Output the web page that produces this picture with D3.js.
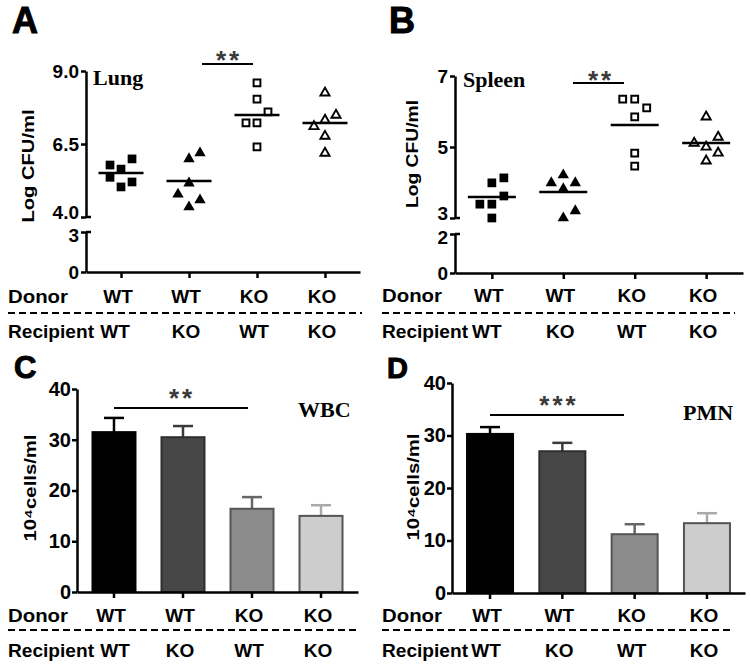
<!DOCTYPE html>
<html>
<head>
<meta charset="utf-8">
<script src="https://cdn.jsdelivr.net/npm/d3@7"></script>
<style>
  body { margin: 0; background: #fff; }
  svg { display: block; }
</style>
</head>
<body>
<svg id="chart" width="750" height="664"></svg>
<script>
// ---------------- DATA ----------------
const groups = ["WT>WT", "WT>KO", "KO>WT", "KO>KO"];
const donorLabels = ["WT", "WT", "KO", "KO"];
const recipientLabels = ["WT", "KO", "WT", "KO"];

// Panel A: Lung, Log CFU/ml (individual mice)
const lungWTtoWT = [5.64, 5.03, 5.99, 5.78, 5.20, 5.36];
const lungWTtoKO = [5.99, 5.16, 4.34, 6.19, 4.58, 4.78];
const lungKOtoWT = [8.59, 8.04, 7.22, 6.40, 7.60, 7.22];
const lungKOtoKO = [8.25, 7.32, 6.77, 6.19, 7.49, 7.10];
const lungMedians = [5.51, 5.23, 7.49, 7.22];
const lungTicksUpper = [4.0, 6.5, 9.0];
const lungTicksLower = [0, 3];

// Panel B: Spleen, Log CFU/ml
const spleenWTtoWT = [3.99, 3.39, 3.00, 4.13, 3.62, 3.39];
const spleenWTtoKO = [4.21, 3.82, 3.00, 3.99, 3.20, 3.99];
const spleenKOtoWT = [6.35, 5.85, 4.83, 4.46, 6.10, 6.35];
const spleenKOtoKO = [5.85, 5.00, 4.61, 5.28, 4.83, 5.11];
const spleenMedians = [3.59, 3.73, 5.62, 5.11];
const spleenTicksUpper = [3, 5, 7];
const spleenTicksLower = [0, 2];

// Panel C: WBC, 10^4 cells/ml (mean, SEM)
const wbcMeans = [31.5, 30.5, 16.4, 15.0];
const wbcSEM = [2.8, 2.2, 2.3, 2.1];
// Panel D: PMN
const pmnMeans = [30.3, 27.0, 11.2, 13.3];
const pmnSEM = [1.3, 1.6, 1.9, 1.9];
const cellTicks = [0, 10, 20, 30, 40];

// ---------------- DRAWING ----------------
const SANS = "'Liberation Sans', Arial, Helvetica, sans-serif";
const SERIF = "'Liberation Serif', 'Times New Roman', serif";
const svg = d3.select("#chart");

function styleAxis(sel, fs) {
  sel.attr("font-family", SANS);
  sel.select(".domain").attr("stroke", "#000").attr("stroke-width", 2.5);
  sel.selectAll(".tick line").attr("stroke", "#000").attr("stroke-width", 2.5);
  sel.selectAll(".tick text").attr("fill", "#000").attr("font-size", fs)
    .attr("font-weight", "bold").attr("font-family", SANS);
}

function panelLetter(txt, x, y, fs) {
  svg.append("text").attr("x", x).attr("y", y).attr("font-family", SANS)
    .attr("font-weight", "bold").attr("font-size", fs).attr("fill", "#000")
    .attr("stroke", "#000").attr("stroke-width", 1).text(txt);
}

function yLabel(txt, cx, cy, len) {
  svg.append("text").attr("transform", `translate(${cx},${cy}) rotate(-90)`)
    .attr("text-anchor", "middle").attr("font-family", SANS).attr("font-weight", "bold")
    .attr("font-size", 17).attr("fill", "#000")
    .attr("textLength", len).attr("lengthAdjust", "spacingAndGlyphs").text(txt);
}

function titleLabel(txt, x, y) {
  svg.append("text").attr("x", x).attr("y", y).attr("font-family", SERIF)
    .attr("font-weight", "bold").attr("font-size", 22).attr("fill", "#000").text(txt);
}

function sigBar(x1, x2, y, stars, starX, starY) {
  svg.append("line").attr("x1", x1).attr("x2", x2).attr("y1", y).attr("y2", y)
    .attr("stroke", "#000").attr("stroke-width", 2);
  svg.append("text").attr("x", starX + 2).attr("y", starY + 14).attr("text-anchor", "middle")
    .attr("font-family", SANS).attr("font-weight", "bold").attr("font-size", 26)
    .attr("letter-spacing", 3).attr("fill", "#3a3a3a").text(stars);
}

function rowLabels(c, center) {
  const g = svg.append("g").attr("font-family", SANS).attr("font-weight", "bold")
    .attr("font-size", 19).attr("fill", "#000");
  g.append("text").attr("x", c.left).attr("y", c.donorY)
    .attr("textLength", 60).attr("lengthAdjust", "spacingAndGlyphs").text("Donor");
  g.selectAll("text.dl").data(groups).join("text").attr("class", "dl")
    .attr("x", d => center(d) - 3).attr("y", c.donorY).attr("text-anchor", "middle")
    .text((d, i) => donorLabels[i]);
  g.append("line").attr("x1", c.left).attr("x2", c.dashEnd).attr("y1", c.dashY).attr("y2", c.dashY)
    .attr("stroke", "#000").attr("stroke-width", 2).attr("stroke-dasharray", "7,4");
  g.append("text").attr("x", c.left).attr("y", c.recipY)
    .attr("textLength", 86).attr("lengthAdjust", "spacingAndGlyphs").text("Recipient");
  g.selectAll("text.rl").data(groups).join("text").attr("class", "rl")
    .attr("x", (d, i) => center(d) + (i === 0 ? c.firstShift : -3)).attr("y", c.recipY)
    .attr("text-anchor", "middle")
    .text((d, i) => recipientLabels[i]);
}

const markers = [
  { type: d3.symbolSquare, size: 76, fill: "#000", stroke: "none", sw: 0 },
  { type: d3.symbolTriangle, size: 56, fill: "#000", stroke: "none", sw: 0 },
  { type: d3.symbolSquare, size: 46, fill: "#fff", stroke: "#000", sw: 2 },
  { type: d3.symbolTriangle, size: 36, fill: "#fff", stroke: "#000", sw: 1.9 }
];

function scatterPanel(c) {
  const x = d3.scalePoint().domain(groups).range([c.ax, c.axEnd]).padding(c.pad);
  const yU = d3.scaleLinear().domain([c.upper[0], c.upper[c.upper.length - 1]]).range([c.yU0, c.yU1]);
  const yL = d3.scaleLinear().domain([c.lower[0], c.lower[1]]).range([c.y0, c.yL1]);

  const gU = svg.append("g").attr("transform", `translate(${c.ax},0)`)
    .call(d3.axisLeft(yU).tickValues(c.upper).tickFormat(d3.format(c.fmt))
      .tickSize(5).tickSizeOuter(0).tickPadding(2));
  styleAxis(gU, 19);
  // lowest upper label nudged up a little (axis break)
  gU.selectAll(".tick text").filter(d => d === c.upper[0]).attr("dy", "0.1em");
  const gL = svg.append("g").attr("transform", `translate(${c.ax},0)`)
    .call(d3.axisLeft(yL).tickValues(c.lower).tickFormat(d3.format("d"))
      .tickSize(5).tickSizeOuter(0).tickPadding(2));
  styleAxis(gL, 19);
  gL.selectAll(".tick text").filter(d => d === c.lower[1]).attr("dy", "0.52em");
  // break caps
  [yU(c.upper[0]), yL(c.lower[1])].forEach(yy => {
    svg.append("line").attr("x1", c.ax).attr("x2", c.ax + 5).attr("y1", yy).attr("y2", yy)
      .attr("stroke", "#000").attr("stroke-width", 2.5);
  });
  const gX = svg.append("g").attr("transform", `translate(0,${c.y0})`)
    .call(d3.axisBottom(x).tickSize(6).tickSizeOuter(0).tickFormat(""));
  styleAxis(gX, 19);

  c.series.forEach((vals, gi) => {
    const m = markers[gi];
    const placed = [];
    const sym = d3.symbol().type(m.type).size(m.size);
    vals.forEach(v => {
      const py = yU(v);
      let slot = 0;
      for (const s of [0, 1, -1]) {
        if (!placed.some(p => p.s === s && Math.abs(p.y - py) < 12)) { slot = s; break; }
      }
      placed.push({ s: slot, y: py });
      svg.append("path").attr("d", sym())
        .attr("transform", `translate(${x(groups[gi]) + slot * c.step},${py})`)
        .attr("fill", m.fill).attr("stroke", m.stroke).attr("stroke-width", m.sw);
    });
    const my = yU(c.medians[gi]);
    svg.append("line").attr("x1", x(groups[gi]) - c.medianW / 2).attr("x2", x(groups[gi]) + c.medianW / 2)
      .attr("y1", my).attr("y2", my).attr("stroke", "#000").attr("stroke-width", 2.5);
  });

  rowLabels(c, d => x(d));
}

const barFills = ["#000000", "#474747", "#8c8c8c", "#cdcdcd"];
const barStrokes = ["#000000", "#2e2e2e", "#555555", "#555555"];
const errColors = ["#000000", "#3a3a3a", "#666666", "#aaaaaa"];

function barPanel(c) {
  const x = d3.scaleBand().domain(groups).range([c.ax, c.axEnd])
    .paddingInner(c.pi).paddingOuter(c.po);
  const y = d3.scaleLinear().domain([0, 40]).range([c.y0, c.y40]);
  const bw = x.bandwidth();

  c.means.forEach((v, i) => {
    const cx = x(groups[i]) + bw / 2;
    const top = y(v + c.sem[i]);
    svg.append("line").attr("x1", cx).attr("x2", cx).attr("y1", y(v)).attr("y2", top)
      .attr("stroke", errColors[i]).attr("stroke-width", 2.5);
    svg.append("line").attr("x1", cx - 10).attr("x2", cx + 10).attr("y1", top).attr("y2", top)
      .attr("stroke", errColors[i]).attr("stroke-width", 2.5);
    svg.append("rect").attr("x", x(groups[i]) + 1).attr("y", y(v)).attr("width", bw - 2)
      .attr("height", y(0) - y(v)).attr("fill", barFills[i])
      .attr("stroke", barStrokes[i]).attr("stroke-width", 2);
  });

  const gY = svg.append("g").attr("transform", `translate(${c.ax},0)`)
    .call(d3.axisLeft(y).tickValues(cellTicks).tickFormat(d3.format("d"))
      .tickSize(5).tickSizeOuter(0).tickPadding(1));
  styleAxis(gY, 20);
  const gX = svg.append("g").attr("transform", `translate(0,${c.y0})`)
    .call(d3.axisBottom(x).tickSize(6).tickSizeOuter(0).tickFormat(""));
  styleAxis(gX, 19);

  rowLabels(c, d => x(d) + bw / 2);
}

// Panel A
panelLetter("A", 12, 33, 36);
scatterPanel({
  ax: 86, axEnd: 360, pad: 0.515, yU0: 217, yU1: 71, y0: 272, yL1: 232, step: 11, medianW: 45,
  upper: lungTicksUpper, lower: lungTicksLower, fmt: ".1f",
  series: [lungWTtoWT, lungWTtoKO, lungKOtoWT, lungKOtoKO], medians: lungMedians,
  left: 8, donorY: 303, dashY: 313, dashEnd: 362, recipY: 338, firstShift: -6
});
yLabel("Log CFU/ml", 34, 166, 113);
titleLabel("Lung", 93, 85);
sigBar(202, 253, 64, "**", 227, 55);

// Panel B
panelLetter("B", 389, 33, 36);
scatterPanel({
  ax: 455, axEnd: 743, pad: 0.516, yU0: 218, yU1: 76, y0: 273, yL1: 234, step: 12, medianW: 48,
  upper: spleenTicksUpper, lower: spleenTicksLower, fmt: "d",
  series: [spleenWTtoWT, spleenWTtoKO, spleenKOtoWT, spleenKOtoKO], medians: spleenMedians,
  left: 382, donorY: 302, dashY: 313, dashEnd: 735, recipY: 338, firstShift: -5
});
yLabel("Log CFU/ml", 418, 154, 108);
titleLabel("Spleen", 463, 87);
sigBar(573, 624, 83, "**", 599, 75);

// Panel C
panelLetter("C", 14, 378, 31);
barPanel({
  ax: 77, axEnd: 358, pi: 0.348, po: 0.21, y0: 592, y40: 389,
  means: wbcMeans, sem: wbcSEM,
  left: 8, donorY: 622, dashY: 630, dashEnd: 358, recipY: 657, firstShift: 1
});
yLabel("10⁴cells/ml", 36, 488, 107);
titleLabel("WBC", 298, 417);
sigBar(114, 248, 408, "**", 180, 393);

// Panel D
panelLetter("D", 387, 378, 29);
barPanel({
  ax: 452, axEnd: 745, pi: 0.336, po: 0.194, y0: 593, y40: 383,
  means: pmnMeans, sem: pmnSEM,
  left: 382, donorY: 622, dashY: 630, dashEnd: 733, recipY: 657, firstShift: -4
});
yLabel("10⁴cells/ml", 419, 487, 107);
titleLabel("PMN", 683, 420);
sigBar(490, 624, 415, "***", 557, 400);
</script>
</body>
</html>
